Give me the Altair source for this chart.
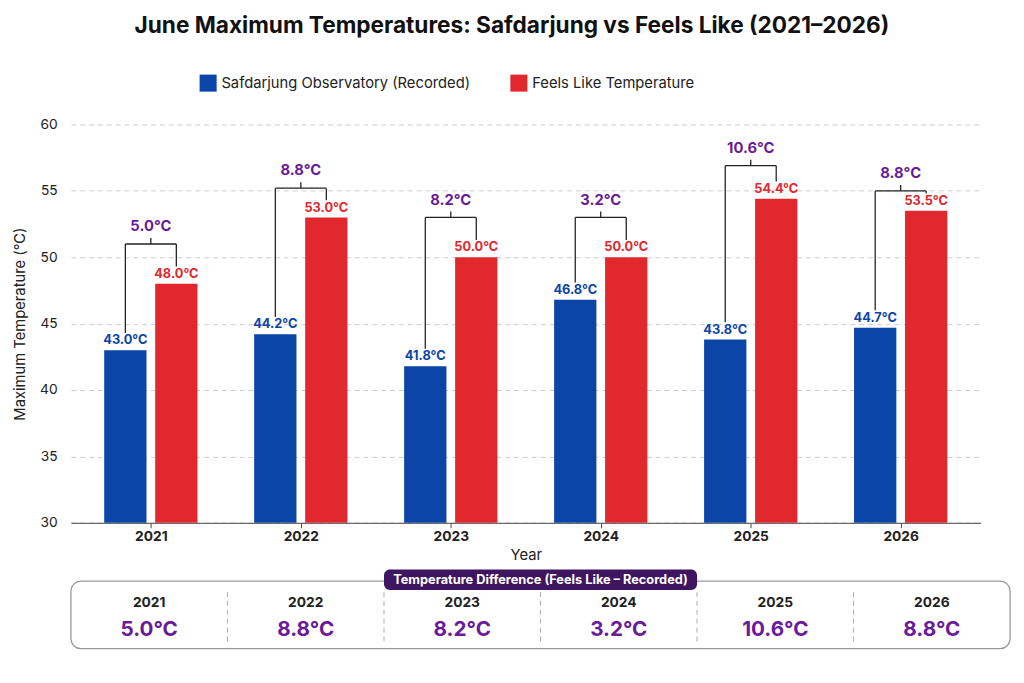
import altair as alt
import pandas as pd

years = [2021, 2022, 2023, 2024, 2025, 2026]
recorded = [43.0, 44.2, 41.8, 46.8, 43.8, 44.7]
feels_like = [48.0, 53.0, 50.0, 50.0, 54.4, 53.5]
differences = [5.0, 8.8, 8.2, 3.2, 10.6, 8.8]
bracket_top = [51.0, 55.2, 53.0, 53.0, 56.9, 55.0]

BLUE = "#0b45a8"
RED = "#e0282e"
PURPLE = "#6a1b9a"
FONT = "Inter"

series_names = ["Safdarjung Observatory (Recorded)", "Feels Like Temperature"]

rows = []
for i, y in enumerate(years):
    rows.append({"idx": i - 0.17, "series": series_names[0], "temp": recorded[i],
                 "label": f"{recorded[i]:.1f}°C"})
    rows.append({"idx": i + 0.17, "series": series_names[1], "temp": feels_like[i],
                 "label": f"{feels_like[i]:.1f}°C"})
bars_df = pd.DataFrame(rows)

br = pd.DataFrame({
    "i": list(range(6)),
    "bx": [i - 0.17 for i in range(6)],
    "rx": [i + 0.17 for i in range(6)],
    "bstart": [v + 1.3 for v in recorded],
    "rstart": [v + 1.3 for v in feels_like],
    "top": bracket_top,
    "tick": [t + 0.45 for t in bracket_top],
    "diff": [f"{d:.1f}°C" for d in differences],
})

x_scale = alt.Scale(domain=[-0.5, 5.5], nice=False)
y_scale = alt.Scale(domain=[30, 60], nice=False, zero=False)
x_axis = alt.Axis(values=list(range(6)), labelExpr="datum.value + 2021", title="Year",
                  grid=False, labelFontWeight="bold", labelFontSize=14, titleFontSize=15,
                  titleFontWeight="normal", labelColor="#222", titleColor="#222",
                  domainColor="#444", tickColor="#444")
y_axis = alt.Axis(values=[30, 35, 40, 45, 50, 55, 60], title="Maximum Temperature (°C)",
                  gridDash=[5, 4], gridColor="#cccccc", labelFontSize=14, titleFontSize=15,
                  titleFontWeight="normal", labelColor="#222", titleColor="#222",
                  domain=False, ticks=False, labelPadding=14, titlePadding=12)

base = alt.Chart(bars_df)
bars = base.mark_bar(size=43).encode(
    x=alt.X("idx:Q", scale=x_scale, axis=x_axis),
    y=alt.Y("temp:Q", scale=y_scale, axis=y_axis),
    y2=alt.datum(30),
    color=alt.Color("series:N", scale=alt.Scale(domain=series_names, range=[BLUE, RED]),
                    legend=alt.Legend(orient="none", legendX=130, legendY=-52, direction="horizontal",
                                      title=None, symbolType="square", symbolSize=300,
                                      labelFontSize=15, columnPadding=40, labelColor="#222",
                                      labelLimit=0)),
)
labels = base.mark_text(dy=-10, fontWeight="bold", fontSize=13, font=FONT).encode(
    x="idx:Q", y="temp:Q", text="label:N",
    color=alt.Color("series:N", scale=alt.Scale(domain=series_names, range=[BLUE, RED]), legend=None),
)

bb = alt.Chart(br)
rule_style = dict(color="#222", strokeWidth=1.3)
left_v = bb.mark_rule(**rule_style).encode(x="bx:Q", y="bstart:Q", y2="top:Q")
right_v = bb.mark_rule(**rule_style).encode(x="rx:Q", y="rstart:Q", y2="top:Q")
horiz = bb.mark_rule(**rule_style).encode(x="bx:Q", x2="rx:Q", y="top:Q")
mid = bb.mark_rule(**rule_style).encode(x="i:Q", y="top:Q", y2="tick:Q")
diff_text = bb.mark_text(dy=-12, fontWeight="bold", fontSize=15, color=PURPLE, font=FONT).encode(
    x="i:Q", y="tick:Q", text="diff:N")

main = alt.layer(bars, labels, left_v, right_v, horiz, mid, diff_text).properties(
    width=925, height=405)

# difference table below
tbl = pd.DataFrame({
    "c": [i + 0.5 for i in range(6)],
    "year": [str(y) for y in years],
    "diff": [f"{d:.1f}°C" for d in differences],
})
sx = alt.Scale(domain=[0, 6], nice=False)
sy = alt.Scale(domain=[0, 1.1], nice=False)
hx = alt.Axis(labels=False, ticks=False, domain=False, grid=False, title=None)
border = alt.Chart(pd.DataFrame({"a": [0], "b": [6], "lo": [0], "hi": [0.92]})).mark_rect(
    fill="white", stroke="#999", strokeWidth=1.3, cornerRadius=10).encode(
    x=alt.X("a:Q", scale=sx, axis=hx), x2="b:Q",
    y=alt.Y("lo:Q", scale=sy, axis=hx), y2="hi:Q")
seps = alt.Chart(pd.DataFrame({"s": [1, 2, 3, 4, 5], "lo": [0.1] * 5, "hi": [0.82] * 5})).mark_rule(
    color="#aaa", strokeDash=[5, 4]).encode(x="s:Q", y="lo:Q", y2="hi:Q")
yr_text = alt.Chart(tbl).mark_text(fontSize=14, fontWeight="bold", color="#222", font=FONT).encode(
    x="c:Q", y=alt.datum(0.62), text="year:N")
val_text = alt.Chart(tbl).mark_text(fontSize=21, fontWeight="bold", color=PURPLE, font=FONT).encode(
    x="c:Q", y=alt.datum(0.25), text="diff:N")
badge = alt.Chart(pd.DataFrame({"a": [2.0], "b": [4.0], "lo": [0.8], "hi": [1.08],
                                "t": ["Temperature Difference (Feels Like – Recorded)"]}))
badge_rect = badge.mark_rect(fill="#3d1560", cornerRadius=6).encode(x="a:Q", x2="b:Q", y="lo:Q", y2="hi:Q")
badge_text = badge.mark_text(color="white", fontWeight="bold", fontSize=13, font=FONT).encode(
    x=alt.datum(3), y=alt.datum(0.94), text="t:N")
table = alt.layer(border, seps, yr_text, val_text, badge_rect, badge_text).properties(
    width=955, height=82)

chart = alt.vconcat(main, table, spacing=6).properties(
    title=alt.TitleParams("June Maximum Temperatures: Safdarjung vs Feels Like (2021–2026)",
                          fontSize=23, font=FONT, fontWeight="bold", anchor="middle", offset=36,
                          color="#111"),
    padding={"top": 2, "left": 5, "right": 5, "bottom": 2},
).configure(font=FONT).configure_view(stroke=None).configure_concat(spacing=6)

chart.save("out.html", embed_options={"renderer": "svg", "actions": False})
